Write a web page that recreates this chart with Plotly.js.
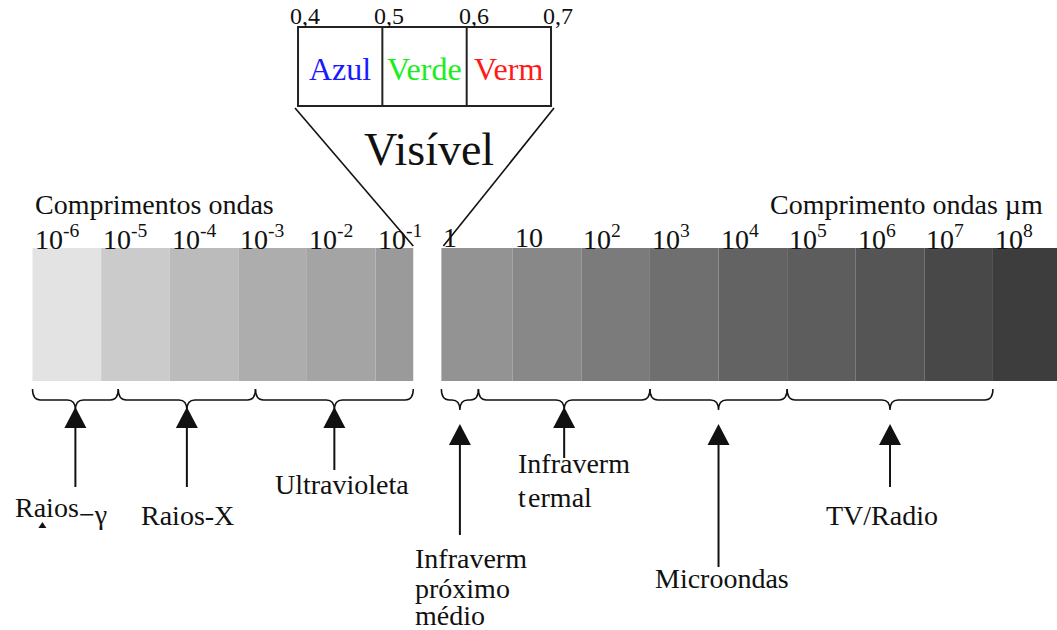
<!DOCTYPE html>
<html>
<head>
<meta charset="utf-8">
<script src="https://cdn.plot.ly/plotly-3.0.1.min.js"></script>
<style>html,body{margin:0;padding:0;background:#fff;}#chart{width:1057px;height:630px;}</style>
</head>
<body>
<div id="chart"></div>
<script>
// ---------- data ----------
// spectrum bands, in log10(wavelength / µm)
const bandLo = [-6, -5, -4, -3, -2, -1, -0.04, 1, 2, 3, 4, 5, 6, 7, 8];
const bandHi = [-5, -4, -3, -2, -1, -0.45, 1, 2, 3, 4, 5, 6, 7, 8, 9.05];
const bandColors = ['#e3e3e3', '#cbcbcb', '#bbbbbb', '#adadad', '#a4a4a4', '#9a9a9a',
                    '#939393', '#888888', '#7b7b7b', '#6f6f6f', '#636363', '#5d5d5d', '#555555', '#484848', '#3d3d3d'];
// tick labels
const tickExp = [-6, -5, -4, -3, -2, -1, 0, 1, 2, 3, 4, 5, 6, 7, 8];
const tickLabels = ['10<sup>-6</sup>', '10<sup>-5</sup>', '10<sup>-4</sup>', '10<sup>-3</sup>', '10<sup>-2</sup>', '10<sup>-1</sup>',
                    '1', '10', '10<sup>2</sup>', '10<sup>3</sup>', '10<sup>4</sup>', '10<sup>5</sup>', '10<sup>6</sup>', '10<sup>7</sup>', '10<sup>8</sup>'];
// regions (braces)
const regionNames = ['Raios-γ', 'Raios-X', 'Ultravioleta', 'Infraverm próximo médio', 'Infraverm termal', 'Microondas', 'TV/Radio'];
const regionLo = [-6, -4.75, -2.75, -0.04, 0.5, 3, 5];
const regionHi = [-4.75, -2.75, -0.45, 0.5, 3, 5, 8];
// visible range (µm)
const visEdges = [0.4, 0.5, 0.6, 0.7];
const visEdgeLabels = ['0,4', '0,5', '0,6', '0,7'];
const visNames = ['Azul', 'Verde', 'Verm'];
const visColors = ['#1a1aff', '#1aee1a', '#ff1a1a'];

// ---------- layout helpers ----------
const W = 1057, H = 630;
const xRange = [-6.474, 8.934];
const x2Range = [0.0466, 1.3];
const ppu = W / (xRange[1] - xRange[0]);
const x2ToX = v => xRange[0] + (v - x2Range[0]) / (x2Range[1] - x2Range[0]) * (xRange[1] - xRange[0]);
const FONT = 'Liberation Serif, "DejaVu Serif", serif';
const INK = '#111';
const barTop = 248, barH = 133;

const shapes = [];
const annotations = [];

// bands as bars
const bandTrace = {
  type: 'bar',
  x: bandLo.map((l, i) => (l + bandHi[i]) / 2),
  width: bandLo.map((l, i) => bandHi[i] - l),
  y: bandLo.map(() => barH),
  base: barTop,
  marker: {color: bandColors, line: {width: 0}},
  hoverinfo: 'skip',
  showlegend: false
};

// tick labels
tickExp.forEach((e, i) => {
  annotations.push({x: e, y: 237, xref: 'x', yref: 'y', text: tickLabels[i], showarrow: false,
    xanchor: 'left', yanchor: 'middle', xshift: e === 0 ? -3 : 0, font: {family: FONT, size: 28, color: INK}});
});

// headers
annotations.push({x: -6, y: 204, xref: 'x', yref: 'y', text: 'Comprimentos ondas', showarrow: false,
  xanchor: 'left', yanchor: 'middle', xshift: 0, font: {family: FONT, size: 28, color: INK}});
annotations.push({x: 1045 / W, y: 204, xref: 'paper', yref: 'y', text: 'Comprimento ondas µm', showarrow: false,
  xanchor: 'right', yanchor: 'middle', font: {family: FONT, size: 28, color: INK}});

// braces and arrows
const arrowCfg = [
  {tip: 407, end: 487},
  {tip: 407, end: 487},
  {tip: 407, end: 470},
  {tip: 424, end: 535},
  {tip: 407, end: 458},
  {tip: 424, end: 567},
  {tip: 424, end: 487}
];
const hw = 11 / ppu, headH = 21;
regionLo.forEach((lo, i) => {
  const hi = regionHi[i], m = (lo + hi) / 2, d = 8 / ppu;
  shapes.push({type: 'path', xref: 'x', yref: 'y', line: {color: INK, width: 1.5},
    path: `M${lo},389 Q${lo},400 ${lo + d},400 L${m - d},400 Q${m},400 ${m},410 Q${m},400 ${m + d},400 L${hi - d},400 Q${hi},400 ${hi},389`});
  const a = arrowCfg[i];
  shapes.push({type: 'path', xref: 'x', yref: 'y', line: {width: 0}, fillcolor: INK,
    path: `M${m - hw},${a.tip + headH} L${m + hw},${a.tip + headH} L${m},${a.tip} Z`});
  shapes.push({type: 'line', xref: 'x', yref: 'y', x0: m, x1: m, y0: a.tip + headH - 1, y1: a.end,
    line: {color: INK, width: 2}});
});

// region labels (text lines with pixel offsets from region middle)
const labelCfg = [
  [{t: 'Raios', dx: -62, y: 507, anchor: 'left'}, {t: '−γ', dx: 2, y: 514, anchor: 'left'}],
  [{t: 'Raios-X', dx: 1, y: 515, anchor: 'center'}],
  [{t: 'Ultravioleta', dx: 8, y: 484, anchor: 'center'}],
  [{t: 'Infraverm', dx: -47, y: 558, anchor: 'left'}, {t: 'próximo', dx: -47, y: 588, anchor: 'left'}, {t: 'médio', dx: -47, y: 615, anchor: 'left'}],
  [{t: 'Infraverm', dx: -48, y: 463, anchor: 'left'}, {t: 't\u200Aermal', dx: -48, y: 497, anchor: 'left'}],
  [{t: 'Microondas', dx: -66, y: 578, anchor: 'left'}],
  [{t: 'TV/Radio', dx: -66, y: 515, anchor: 'left'}]
];
labelCfg.forEach((lines, i) => {
  const m = (regionLo[i] + regionHi[i]) / 2;
  lines.forEach(L => annotations.push({x: m, y: L.y, xref: 'x', yref: 'y', text: L.t, showarrow: false,
    xanchor: L.anchor, yanchor: 'middle', xshift: L.dx, font: {family: FONT, size: 28, color: INK}}));
});
// small mark under "Raios"
{
  const m = (regionLo[0] + regionHi[0]) / 2 - 33 / ppu, w = 4 / ppu;
  shapes.push({type: 'path', xref: 'x', yref: 'y', line: {width: 0}, fillcolor: INK,
    path: `M${m - w},528 L${m + w},528 L${m},522 Z`});
}

// visible-range box (on second x axis)
shapes.push({type: 'rect', xref: 'x2', yref: 'y', x0: visEdges[0], x1: visEdges[visEdges.length - 1], y0: 27, y1: 106,
  line: {color: '#222', width: 2}, fillcolor: 'rgba(0,0,0,0)'});
visEdges.slice(1, -1).forEach(v => shapes.push({type: 'line', xref: 'x2', yref: 'y', x0: v, x1: v, y0: 27, y1: 106,
  line: {color: '#222', width: 2}}));
visEdges.forEach((v, i) => annotations.push({x: v, y: 16, xref: 'x2', yref: 'y', text: visEdgeLabels[i], showarrow: false,
  xanchor: 'left', yanchor: 'middle', xshift: -10, font: {family: FONT, size: 24, color: INK}}));
visNames.forEach((n, i) => annotations.push({x: (visEdges[i] + visEdges[i + 1]) / 2, y: 69, xref: 'x2', yref: 'y', text: n,
  showarrow: false, xanchor: 'center', yanchor: 'middle', font: {family: FONT, size: 32, color: visColors[i]}}));
annotations.push({x: (visEdges[0] + visEdges[visEdges.length - 1]) / 2, y: 149, xref: 'x2', yref: 'y', text: 'Visível',
  showarrow: false, xanchor: 'center', yanchor: 'middle', xshift: 4, font: {family: FONT, size: 46, color: INK}});

// funnel lines from the box to the gap in the spectrum bar
const gapLeft = bandHi[5], gapRight = bandLo[6];
shapes.push({type: 'line', xref: 'x', yref: 'y', x0: x2ToX(visEdges[0]) - 3 / ppu, y0: 108, x1: gapLeft, y1: 246,
  line: {color: INK, width: 1.6}});
shapes.push({type: 'line', xref: 'x', yref: 'y', x0: x2ToX(visEdges[visEdges.length - 1]) + 3 / ppu, y0: 108, x1: gapRight + 2 / ppu, y1: 246,
  line: {color: INK, width: 1.6}});

const layout = {
  width: W, height: H,
  margin: {l: 0, r: 0, t: 0, b: 0, pad: 0},
  paper_bgcolor: '#fff', plot_bgcolor: '#fff',
  showlegend: false,
  xaxis: {range: xRange, visible: false, fixedrange: true},
  xaxis2: {range: x2Range, visible: false, overlaying: 'x', fixedrange: true},
  yaxis: {range: [H, 0], visible: false, fixedrange: true},
  shapes: shapes,
  annotations: annotations
};

Plotly.newPlot('chart', [bandTrace], layout, {staticPlot: true, displayModeBar: false});
</script>
</body>
</html>
